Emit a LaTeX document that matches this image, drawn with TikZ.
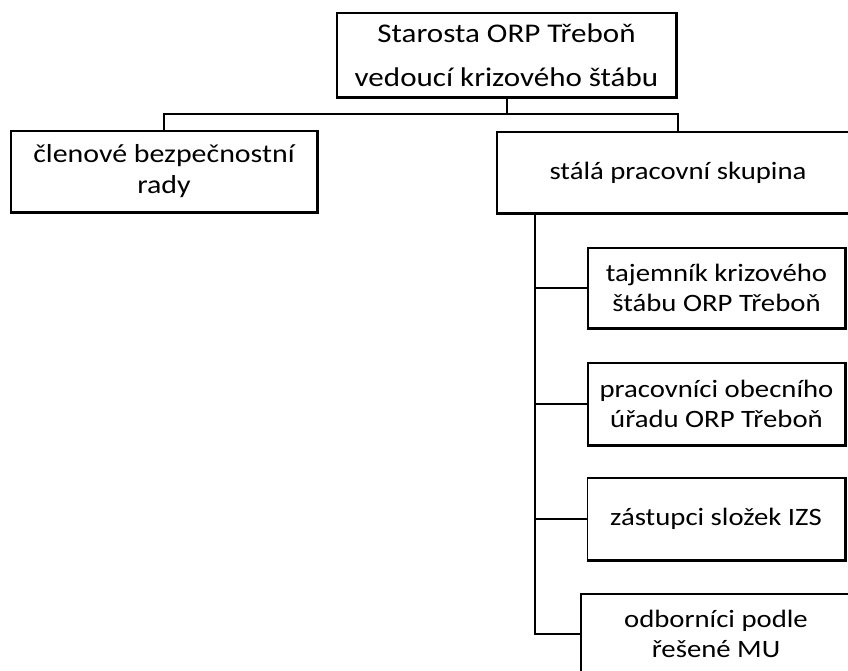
\documentclass[tikz,border=0pt]{standalone}
\usepackage{fontspec}
\setmainfont{Carlito}[FakeStretch=1.15]
\begin{document}
\begin{tikzpicture}[x=1pt, y=-1pt,
  box/.style={draw, line width=1.2pt, align=center, inner sep=0pt,
    font=\fontsize{25}{30}\selectfont},
  conn/.style={line width=2pt}]
\clip (0,0) rectangle (848,670);
% head of the staff
\node[box, minimum width=339, minimum height=84,
  font=\fontsize{27}{32}\selectfont] (chief) at (506.5,55)
  {Starosta ORP Třeboň\\[12pt]vedoucí krizového štábu};
\node[box, minimum width=306, minimum height=81,
  font=\fontsize{26}{31}\selectfont] (council) at (164,171.5)
  {členové bezpečnostní\\rady};
\node[box, minimum width=362, minimum height=81] (group) at (678,172.5)
  {stálá pracovní skupina};
% members of the working group
\node[box, minimum width=257, minimum height=80] (secretary) at (716.5,288)
  {tajemník krizového\\štábu ORP Třeboň};
\node[box, minimum width=257, minimum height=82] (staff) at (716.5,404)
  {pracovníci obecního\\úřadu ORP Třeboň};
\node[box, minimum width=257, minimum height=82] (izs) at (716,519)
  {zástupci složek IZS};
\node[box, minimum width=270, minimum height=80] (experts) at (716,634)
  {odborníci podle\\řešené MU};
% heavy bottom and right edges
\foreach \n in {chief,council,group,secretary,staff,izs,experts}
  \draw[line width=2.8pt] (\n.south west) -- (\n.south east) -- (\n.north east);
% connectors
\coordinate (fork) at (506.5,114);
\draw[conn] (chief.south) -- (fork) -| (council.north);
\draw[conn] (fork) -| (group.north);
\coordinate (trunk) at (535,213);
\draw[conn] (trunk) |- (experts.west);
\foreach \n in {secretary,staff,izs}
  \draw[conn] (trunk |- \n.west) -- (\n.west);
\end{tikzpicture}
\end{document}
